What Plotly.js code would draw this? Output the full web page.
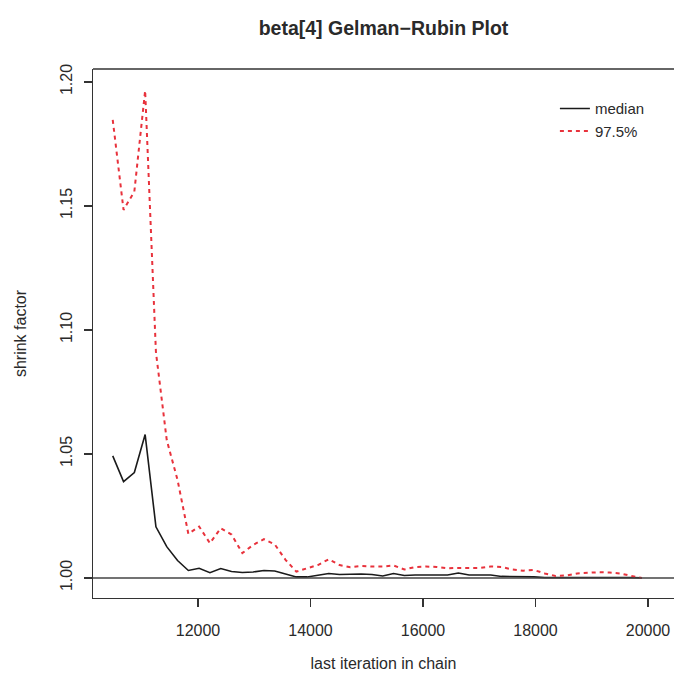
<!DOCTYPE html>
<html>
<head>
<meta charset="utf-8">
<script src="https://cdn.plot.ly/plotly-3.0.1.min.js"></script>
<style>html,body{margin:0;padding:0;background:#fff;}#chart{width:674px;height:678px;}</style>
</head>
<body>
<div id="chart"></div>
<script>
// last iteration in chain
const lastIter = [10484, 10676, 10868, 11060, 11252, 11444, 11636, 11828, 12020, 12212,
  12404, 12596, 12788, 12980, 13172, 13364, 13556, 13748, 13940, 14132,
  14324, 14516, 14708, 14900, 15092, 15284, 15476, 15668, 15860, 16052,
  16244, 16436, 16628, 16820, 17012, 17204, 17396, 17588, 17780, 17972,
  18164, 18356, 18548, 18740, 18932, 19124, 19316, 19508, 19700, 19892];
// shrink factor, median
const medianShrink = [1.0492, 1.0388, 1.0425, 1.0578, 1.0206, 1.0126, 1.0070, 1.0030, 1.0039, 1.0021,
  1.0038, 1.0026, 1.0022, 1.0024, 1.0030, 1.0028, 1.0016, 1.0004, 1.0004, 1.0010,
  1.0018, 1.0014, 1.0016, 1.0016, 1.0014, 1.0008, 1.0018, 1.0010, 1.0012, 1.0012,
  1.0012, 1.0012, 1.0020, 1.0012, 1.0012, 1.0012, 1.0006, 1.0006, 1.0006, 1.0004,
  1.0001, 1.0001, 1.0002, 1.0003, 1.0004, 1.0004, 1.0004, 1.0003, 1.0001, 1.0000];
// shrink factor, 97.5% quantile
const upperShrink = [1.1847, 1.1484, 1.1558, 1.1965, 1.0910, 1.0556, 1.0395, 1.0178, 1.0207, 1.0140,
  1.0200, 1.0175, 1.0100, 1.0133, 1.0156, 1.0135, 1.0073, 1.0025, 1.0039, 1.0052,
  1.0075, 1.0052, 1.0043, 1.0048, 1.0046, 1.0046, 1.0050, 1.0034, 1.0044, 1.0046,
  1.0044, 1.0039, 1.0040, 1.0040, 1.0040, 1.0046, 1.0044, 1.0034, 1.0029, 1.0032,
  1.0018, 1.0008, 1.0010, 1.0018, 1.0022, 1.0023, 1.0022, 1.0018, 1.0008, 1.0000];
const xTicks = [12000, 14000, 16000, 18000, 20000];
const yTicks = [1.00, 1.05, 1.10, 1.15, 1.20];
const yTickText = ['1.00', '1.05', '1.10', '1.15', '1.20'];
const seriesNames = ['median', '97.5%'];

const FONT = 'Liberation Sans, Arial, Helvetica, sans-serif';
const INK = '#2a2a2a';

const traces = [
  {x: lastIter, y: medianShrink, name: seriesNames[0], type: 'scatter', mode: 'lines',
   line: {color: '#1a1a1a', width: 1.6}},
  {x: lastIter, y: upperShrink, name: seriesNames[1], type: 'scatter', mode: 'lines',
   line: {color: '#e8323c', width: 2, dash: '4px,4px'}}
];

const layout = {
  width: 674, height: 678,
  margin: {l: 93, r: 0, t: 69, b: 80},
  paper_bgcolor: '#fff', plot_bgcolor: '#fff',
  font: {family: FONT, size: 16, color: INK},
  title: {text: '<b>beta[4] Gelman\u2212Rubin Plot</b>', font: {family: FONT, size: 19.5, color: INK},
          x: 0.5, xref: 'paper', xanchor: 'center', y: 1 - 28/678, yref: 'container', yanchor: 'middle'},
  xaxis: {range: [10133, 20462], tickvals: xTicks, ticktext: xTicks.map(String),
          showgrid: false, zeroline: false, showline: true, linecolor: '#333', linewidth: 1.3,
          ticks: 'outside', ticklen: 8, tickwidth: 1.3, tickcolor: '#333', ticklabelstandoff: 9,
          tickfont: {family: FONT, size: 16, color: INK},
          title: {text: 'last iteration in chain', font: {family: FONT, size: 16, color: INK}, standoff: 20}},
  yaxis: {range: [0.9919, 1.2052], tickvals: yTicks, ticktext: yTickText, tickangle: -90,
          showgrid: false, zeroline: false, showline: true, linecolor: '#333', linewidth: 1.3,
          ticks: 'outside', ticklen: 8, tickwidth: 1.3, tickcolor: '#333', ticklabelstandoff: 5,
          tickfont: {family: FONT, size: 16, color: INK},
          title: {text: 'shrink factor', font: {family: FONT, size: 16, color: INK}, standoff: 27}},
  shapes: [
    {type: 'line', xref: 'paper', yref: 'paper', x0: 0, x1: 1, y0: 1, y1: 1, line: {color: '#333', width: 1.3}},
    {type: 'line', xref: 'paper', yref: 'y', x0: 0, x1: 1, y0: 1, y1: 1, line: {color: '#444', width: 1.5}}
  ],
  showlegend: true,
  legend: {x: 0.795, y: 0.956, xanchor: 'left', yanchor: 'top', bgcolor: 'rgba(0,0,0,0)',
           font: {family: FONT, size: 15, color: INK}, tracegroupgap: 0, itemwidth: 30}
};

Plotly.newPlot('chart', traces, layout, {displayModeBar: false, staticPlot: true});
</script>
</body>
</html>
